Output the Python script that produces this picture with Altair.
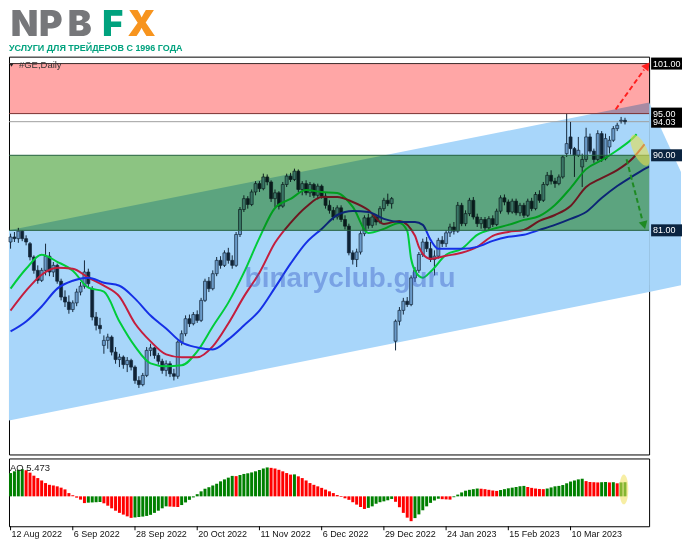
import altair as alt
import pandas as pd

FONT = "Liberation Sans"

# ---------------- data ----------------
date_labels = ["12 Aug 2022", "6 Sep 2022", "28 Sep 2022", "20 Oct 2022", "11 Nov 2022",
               "6 Dec 2022", "29 Dec 2022", "24 Jan 2023", "15 Feb 2023", "10 Mar 2023"]
date_index = [0, 16, 32, 48, 64, 80, 96, 112, 128, 144]

opens = [79.6, 80.2, 80.0, 80.9, 80.0, 79.4, 77.8, 76.2, 75.0, 76.2,
         77.9, 76.0, 76.8, 74.9, 73.0, 72.4, 71.5, 72.3, 73.6, 74.3,
         76.0, 74.0, 70.6, 69.6, 67.2, 67.8, 68.2, 66.4, 65.5, 65.8,
         64.9, 65.4, 64.6, 63.0, 62.5, 63.6, 66.6, 66.9, 66.0, 65.3,
         64.2, 65.0, 63.8, 63.5, 67.6, 68.6, 70.4, 69.8, 70.9, 70.2,
         72.6, 74.9, 74.0, 75.8, 77.4, 76.8, 78.3, 77.4, 76.8, 80.5,
         83.5, 84.8, 84.1, 85.6, 86.6, 86.0, 87.4, 86.8, 84.8, 85.5,
         83.9, 86.5, 87.5, 87.1, 88.1, 85.9, 86.6, 85.5, 86.5, 85.2,
         86.3, 85.1, 84.0, 83.4, 82.6, 83.7, 82.3, 81.5, 78.3, 77.5,
         78.4, 80.6, 82.5, 81.6, 82.6, 82.0, 83.6, 84.6, 84.2, 67.7,
         70.1, 71.4, 72.5, 72.1, 75.3, 76.2, 78.1, 79.6, 78.8, 77.5,
         77.9, 79.8, 79.4, 80.7, 81.4, 80.9, 84.0, 81.8, 83.0, 84.6,
         82.6, 81.8, 82.3, 81.3, 82.4, 81.7, 83.3, 84.9, 84.4, 83.2,
         84.5, 83.1, 84.0, 82.8, 84.5, 83.6, 85.3, 84.6, 86.5, 87.6,
         86.9, 86.6, 87.4, 90.2, 92.2, 90.8, 90.0, 88.6, 89.5, 92.2,
         90.5, 89.5, 92.6, 89.6, 91.0, 91.8, 93.2, 94.1, 94.2]
highs = [80.6, 80.8, 81.3, 81.0, 80.4, 79.6, 78.0, 76.8, 76.5, 79.4,
         78.4, 77.2, 77.0, 75.2, 73.8, 73.2, 72.6, 74.0, 74.8, 77.4,
         76.4, 74.3, 71.2, 70.5, 68.4, 68.6, 68.4, 67.0, 66.2, 66.0,
         65.8, 65.6, 64.8, 63.5, 63.9, 67.0, 67.4, 67.0, 66.3, 65.6,
         65.4, 65.3, 64.4, 67.8, 69.0, 70.8, 70.9, 71.2, 71.4, 72.9,
         75.2, 75.4, 76.2, 77.8, 77.9, 78.6, 78.9, 78.0, 80.8, 83.8,
         85.2, 85.1, 85.9, 86.9, 86.9, 87.8, 87.7, 87.0, 85.9, 85.7,
         86.8, 87.8, 87.9, 88.4, 88.3, 86.9, 87.0, 86.8, 86.7, 86.6,
         86.5, 85.5, 84.6, 83.8, 84.0, 84.0, 82.8, 81.8, 78.6, 78.8,
         80.9, 82.8, 83.0, 82.9, 82.9, 83.9, 84.9, 85.4, 85.0, 70.3,
         71.8, 72.9, 73.0, 75.6, 76.6, 78.4, 80.0, 80.2, 79.6, 78.6,
         80.1, 80.3, 81.0, 81.8, 82.0, 84.4, 84.3, 83.4, 84.9, 85.0,
         83.0, 82.6, 82.6, 82.7, 82.8, 83.6, 85.2, 85.3, 84.7, 84.8,
         84.8, 84.3, 84.3, 84.8, 84.9, 85.6, 85.8, 86.8, 88.0, 88.2,
         87.3, 87.7, 90.0, 95.0, 94.0, 91.0, 92.2, 90.2, 93.3, 92.6,
         90.8, 93.0, 92.9, 92.6, 92.3, 93.5, 93.9, 94.6, 94.5]
lows = [78.8, 79.6, 79.5, 79.7, 79.2, 77.4, 75.8, 74.6, 74.8, 75.6,
        75.5, 75.4, 74.6, 72.6, 71.8, 71.0, 71.2, 71.9, 73.2, 74.0,
        74.2, 70.2, 69.0, 68.6, 66.2, 66.8, 66.0, 65.0, 64.6, 64.4,
        64.0, 64.2, 62.6, 62.1, 62.3, 63.4, 65.9, 65.6, 64.9, 63.8,
        63.5, 63.4, 63.0, 63.2, 67.2, 68.3, 69.4, 69.6, 69.9, 70.0,
        72.4, 73.6, 73.8, 75.5, 76.4, 76.6, 77.0, 76.4, 76.6, 80.2,
        83.2, 83.6, 83.9, 85.2, 85.6, 85.8, 86.4, 84.4, 83.8, 83.5,
        83.7, 86.2, 86.8, 86.9, 85.6, 85.2, 85.2, 85.0, 84.9, 84.7,
        84.8, 83.6, 83.0, 82.2, 82.3, 82.0, 81.1, 78.0, 76.9, 76.6,
        78.1, 80.3, 81.2, 81.3, 81.6, 81.8, 83.3, 83.9, 83.6, 66.6,
        69.6, 70.9, 71.8, 71.9, 74.8, 75.9, 77.8, 78.4, 77.2, 75.6,
        77.6, 79.0, 79.0, 80.2, 80.5, 80.7, 81.5, 81.5, 82.7, 82.3,
        81.4, 81.2, 80.9, 80.9, 81.4, 81.5, 83.0, 84.0, 82.9, 83.0,
        82.8, 82.7, 82.5, 82.6, 83.3, 83.4, 84.3, 84.4, 86.3, 86.5,
        86.1, 86.4, 87.2, 89.8, 90.1, 87.4, 89.8, 86.2, 89.2, 90.2,
        89.1, 89.3, 89.2, 89.4, 90.2, 91.6, 92.9, 93.8, 93.7]
closes = [80.2, 80.0, 80.9, 80.0, 79.6, 77.8, 76.2, 75.0, 76.2, 77.9,
          76.0, 76.8, 74.9, 73.0, 72.4, 71.5, 72.3, 73.6, 74.3, 76.0,
          74.6, 70.6, 69.6, 69.2, 67.8, 68.2, 66.4, 65.5, 65.8, 64.9,
          65.4, 64.6, 63.0, 62.5, 63.6, 66.6, 66.9, 66.0, 65.3, 64.2,
          65.0, 63.8, 63.5, 67.6, 68.6, 70.4, 69.8, 70.9, 70.2, 72.6,
          74.9, 74.0, 75.8, 77.4, 76.8, 78.3, 77.4, 76.8, 80.5, 83.5,
          84.8, 84.1, 85.6, 86.6, 86.0, 87.4, 86.8, 84.8, 85.5, 83.9,
          86.5, 87.5, 87.1, 88.1, 85.9, 86.6, 85.5, 86.5, 85.2, 86.3,
          85.1, 84.0, 83.4, 82.6, 83.7, 82.3, 81.5, 78.3, 77.5, 78.4,
          80.6, 82.5, 81.6, 82.6, 82.0, 83.6, 84.6, 84.2, 84.8, 70.1,
          71.4, 72.5, 72.1, 75.3, 76.2, 78.1, 79.6, 78.8, 77.5, 77.9,
          79.8, 79.4, 80.7, 81.4, 80.9, 84.0, 81.8, 83.0, 84.6, 82.6,
          81.8, 82.3, 81.3, 82.4, 81.7, 83.3, 84.9, 84.4, 83.2, 84.5,
          83.1, 84.0, 82.8, 84.5, 83.6, 85.3, 84.6, 86.5, 87.6, 86.9,
          86.6, 87.4, 89.8, 91.4, 90.8, 90.0, 90.6, 89.5, 92.2, 90.5,
          89.5, 92.6, 89.6, 92.0, 91.8, 93.2, 93.6, 94.2, 94.03]

ao_values = [10.7, 11.5, 12.2, 12.5, 12.0, 10.9, 9.5, 8.4, 7.3, 6.1,
             5.3, 5.0, 4.6, 4.0, 3.2, 1.5, 0.5, -0.6, -1.5, -3.1,
             -2.9, -2.8, -2.7, -2.6, -3.2, -4.3, -5.5, -6.6, -7.6, -8.4,
             -9.2, -9.9, -9.7, -9.5, -9.3, -9.0, -8.5, -7.6, -6.6, -5.5,
             -4.6, -4.7, -4.8, -4.9, -4.0, -2.8, -1.6, -0.5, 1.0, 2.3,
             3.5, 4.2, 5.0, 5.8, 6.9, 7.8, 8.6, 9.4, 9.3, 9.8,
             10.3, 10.6, 11.0, 11.5, 12.1, 12.8, 13.293, 13.1, 12.8, 12.2,
             11.5, 10.7, 10.0, 10.1, 9.2, 8.4, 7.3, 6.1, 5.3, 4.6,
             3.9, 3.1, 2.3, 1.5, 0.6, -0.3, -0.9, -1.6, -2.7, -3.8,
             -4.9, -5.8, -5.3, -4.6, -3.4, -2.7, -2.3, -1.8, -1.2, -2.5,
             -5.0, -7.6, -9.8, -11.417, -10.0, -8.3, -6.4, -4.6, -3.0, -1.9,
             -1.1, -1.3, -1.4, -1.5, -0.4, 0.8, 1.8, 2.6, 3.0, 3.3,
             3.6, 3.5, 3.3, 3.0, 2.7, 2.5, 2.9, 3.3, 3.7, 4.0,
             4.3, 4.6, 4.8, 4.3, 3.9, 3.6, 3.4, 3.3, 3.6, 4.1,
             4.6, 4.8, 5.2, 6.0, 6.8, 7.3, 7.8, 8.1, 7.0, 6.6,
             6.5, 6.4, 6.5, 6.6, 6.4, 6.5, 6.0, 6.4, 6.5]

# Alligator lines
lips_i = [0, 4, 8, 12, 16, 20, 24, 28, 32, 36, 40, 44, 48, 52, 56, 60, 64, 68, 72, 76,
          80, 84, 88, 92, 96, 100, 102, 103, 104, 106, 108, 112, 116, 120, 124, 128,
          132, 136, 140, 144, 148, 152, 156, 160, 161]
lips_v = [74.01, 76.39, 78.07, 77.23, 76.16, 74.13, 73.65, 70.07, 67.08, 65.05,
          64.69, 64.81, 66.48, 69.47, 72.33, 75.92, 80.10, 83.68, 84.76, 85.83,
          85.59, 85.47, 83.80, 80.69, 81.17, 81.89, 80.93, 77.59, 76.16, 75.32,
          76.04, 78.07, 78.78, 80.46, 81.17, 81.65, 82.25, 82.72, 84.04, 86.07,
          88.34, 89.41, 90.61, 92.04, 92.52]
teeth_i = [0, 4, 8, 12, 16, 20, 24, 28, 32, 36, 40, 44, 48, 52, 56, 60, 64, 68, 72, 76,
           80, 84, 88, 92, 96, 100, 104, 105, 106, 108, 112, 116, 120, 124, 128, 132,
           136, 140, 144, 148, 152, 156, 160, 163]
teeth_v = [71.38, 73.77, 75.68, 76.51, 76.39, 75.32, 74.36, 73.05, 69.83, 67.68,
           66.12, 65.77, 65.77, 67.08, 69.83, 73.05, 75.92, 79.50, 81.89, 83.80,
           84.99, 84.99, 84.40, 83.44, 81.77, 82.13, 80.34, 79.02, 78.19, 77.59,
           77.95, 78.31, 79.02, 80.34, 80.81, 81.05, 82.13, 82.84, 83.92, 86.19,
           87.26, 88.22, 89.65, 91.32]
jaw_i = [0, 4, 8, 12, 16, 20, 24, 28, 32, 36, 40, 44, 48, 52, 56, 60, 64, 68, 72, 76,
         80, 84, 88, 92, 96, 100, 104, 106, 108, 110, 116, 120, 124, 128, 132, 136,
         140, 144, 148, 152, 156, 160, 164, 166]
jaw_v = [68.87, 70.06, 71.86, 74.01, 74.96, 75.32, 74.72, 74.36, 72.81, 70.78,
         69.23, 67.56, 66.96, 66.72, 67.92, 69.59, 71.38, 74.13, 77.00, 79.50,
         81.17, 82.84, 83.32, 83.20, 82.37, 82.01, 82.01, 81.65, 79.86, 78.78,
         78.78, 79.02, 79.74, 80.22, 80.46, 81.05, 81.65, 82.37, 83.20, 84.87,
         86.31, 87.50, 88.58, 88.94]

price_ticks = [54.3, 58.2, 62.1, 66.0, 69.9, 73.8, 77.7, 81.6, 85.5, 89.4, 93.3, 97.2]
ao_ticks = [-11.417, 0.0, 13.293]

# channel (anchors at left and right edges) and its part past the price scale
chan_x = [-0.4, 164.2]
chan_upper = [81.02, 96.33]
chan_lower = [58.19, 73.61]
ext_x = [164.2, 172.4]
ext_upper = [96.33, 88.0]
ext_lower = [73.61, 74.4]

resist_zone = [95.0, 101.0]
support_zone = [81.0, 90.0]
bid_price = 94.03

level_prices = [101.0, 95.0, 94.03, 90.0, 81.0]
level_kind = ["limit", "limit", "bid", "zone", "zone"]

up_arrow_i = [155.6, 162.9]
up_arrow_p = [95.49, 100.27]
up_head = (163.7, 100.75)
dn_arrow_i = [158.4, 162.4]
dn_arrow_p = [89.51, 82.34]
dn_head = (162.9, 81.62)
ellipse_main = (161.9, 90.6)
ellipse_ao = (157.7, 3.2)
watermark_pos = (87.3, 75.16)

# ---------------- chart ----------------
W, H_MAIN, H_AO, H_LOGO = 642, 399, 68, 45
xscale = alt.Scale(domain=[-0.4, 164.2], nice=False, zero=False, padding=0)
yscale = alt.Scale(domain=[54.12, 101.83], nice=False, zero=False, padding=0)
aoscale = alt.Scale(domain=[-13.75, 17.42], nice=False, zero=False, padding=0)

ELLIPSE_H = "M-1,0A1,0.4,0,1,0,1,0A1,0.4,0,1,0,-1,0Z"
ELLIPSE_V = "M0,-1A0.3,1,0,1,0,0,1A0.3,1,0,1,0,0,-1Z"


def X(f="i"):
    return alt.X(f"{f}:Q", scale=xscale, axis=None)


def Y(f):
    return alt.Y(f"{f}:Q", scale=yscale, axis=None)


yaxis = alt.Axis(orient="right", values=price_ticks, format=".2f", title=None, grid=False,
                 tickSize=3, tickColor="#000000", domainColor="#000000", labelColor="#111111",
                 labelFont=FONT, labelFontSize=9, labelPadding=2)

bars = pd.DataFrame({"i": list(range(len(closes))), "o": opens, "h": highs, "l": lows, "c": closes})
one = pd.DataFrame({"k": [0]})

chan_df = pd.DataFrame({"i": chan_x, "lo": chan_lower, "up": chan_upper})
channel = alt.Chart(chan_df).mark_area(color="#A8D6FA").encode(
    x=X(), y=alt.Y("lo:Q", scale=yscale, axis=yaxis), y2="up:Q")
ext_df = pd.DataFrame({"i": ext_x, "lo": ext_lower, "up": ext_upper})
channel_ext = alt.Chart(ext_df).mark_area(color="#A8D6FA", clip=False).encode(
    x=X(), y=Y("lo"), y2="up:Q")

bid = alt.Chart(pd.DataFrame({"p": [bid_price]})).mark_rule(color="#A0A0A0", strokeWidth=1).encode(y=Y("p"))

wicks = alt.Chart(bars).mark_rule(color="#15283B", strokeWidth=1).encode(x=X(), y=Y("l"), y2="h:Q")
bodies = alt.Chart(bars).mark_bar(size=3, stroke="#15283B", strokeWidth=0.7).encode(
    x=X(), y=Y("o"), y2="c:Q",
    color=alt.condition("datum.c >= datum.o", alt.value("#6A9AC8"), alt.value("#0F2336")))

lips = alt.Chart(pd.DataFrame({"i": lips_i, "v": lips_v})).mark_line(
    color="#00CC3A", strokeWidth=2, interpolate="monotone", clip=True).encode(x=X(), y=Y("v"))
teeth = alt.Chart(pd.DataFrame({"i": teeth_i, "v": teeth_v})).mark_line(
    color="#C41E3E", strokeWidth=2, interpolate="monotone", clip=True).encode(x=X(), y=Y("v"))
jaw = alt.Chart(pd.DataFrame({"i": jaw_i, "v": jaw_v})).mark_line(
    color="#1530E6", strokeWidth=2, interpolate="monotone", clip=True).encode(x=X(), y=Y("v"))

red_zone = alt.Chart(pd.DataFrame({"lo": [resist_zone[0]], "hi": [resist_zone[1]]})).mark_rect(
    color="#FFA6A6", blend="multiply").encode(x=alt.value(0), x2=alt.value(W), y=Y("lo"), y2="hi:Q")
green_zone = alt.Chart(pd.DataFrame({"lo": [support_zone[0]], "hi": [support_zone[1]]})).mark_rect(
    color="#8CC482", blend="multiply").encode(x=alt.value(0), x2=alt.value(W), y=Y("lo"), y2="hi:Q")
red_top = alt.Chart(pd.DataFrame({"p": [resist_zone[1]]})).mark_rule(color="#3A2A2A", strokeWidth=1).encode(y=Y("p"))
red_bot = alt.Chart(pd.DataFrame({"p": [resist_zone[0]]})).mark_rule(color="#7A3030", strokeWidth=1).encode(y=Y("p"))
green_lines = alt.Chart(pd.DataFrame({"p": support_zone})).mark_rule(color="#23603E", strokeWidth=1).encode(y=Y("p"))

up_arrow = alt.Chart(pd.DataFrame({"i": up_arrow_i, "p": up_arrow_p})).mark_line(
    color="#FF1E1E", strokeWidth=2, strokeDash=[5, 3], clip=False).encode(x=X(), y=Y("p"))
up_tip = alt.Chart(pd.DataFrame({"i": [up_head[0]], "p": [up_head[1]]})).mark_point(
    shape="triangle-up", size=80, angle=37, filled=True, color="#FF1E1E", opacity=1, clip=False).encode(x=X(), y=Y("p"))
dn_arrow = alt.Chart(pd.DataFrame({"i": dn_arrow_i, "p": dn_arrow_p})).mark_line(
    color="#1E8A22", strokeWidth=2, strokeDash=[5, 3], clip=False).encode(x=X(), y=Y("p"))
dn_tip = alt.Chart(pd.DataFrame({"i": [dn_head[0]], "p": [dn_head[1]]})).mark_point(
    shape="triangle-up", size=80, angle=165, filled=True, color="#1E8A22", opacity=1, clip=False).encode(x=X(), y=Y("p"))
ell = alt.Chart(pd.DataFrame({"i": [ellipse_main[0]], "p": [ellipse_main[1]]})).mark_point(
    shape=ELLIPSE_H, size=1156, angle=64, filled=True, color="#E6DE50", opacity=0.6, strokeWidth=0, clip=False).encode(
    x=X(), y=Y("p"))

watermark = alt.Chart(pd.DataFrame({"i": [watermark_pos[0]], "p": [watermark_pos[1]]})).mark_text(
    text="binaryclub.guru", font=FONT, fontWeight="bold", fontSize=28, color="#3A5CC8", opacity=0.42,
    align="center", baseline="middle").encode(x=X(), y=Y("p"))

sym_label = alt.Chart(one).mark_text(text="#GE,Daily", font=FONT, fontSize=9.5, color="#333333",
                                     align="left", baseline="middle").encode(x=alt.value(10), y=alt.value(8.5))
sym_tri = alt.Chart(one).mark_point(shape="triangle-down", size=16, filled=True, color="#222222",
                                    opacity=1).encode(x=alt.value(2.5), y=alt.value(8.5))

lv = pd.DataFrame({"p": level_prices, "kind": level_kind})
box_color = alt.Color("kind:N", scale=alt.Scale(domain=["limit", "bid", "zone"],
                                                range=["#000000", "#000000", "#0B2440"]), legend=None)
lv_box = alt.Chart(lv).transform_calculate(top="datum.p + 0.72", bot="datum.p - 0.72").mark_rect(
    clip=False).encode(x=alt.value(W + 2), x2=alt.value(W + 33), y=Y("top"), y2="bot:Q", color=box_color)
lv_text = alt.Chart(lv).mark_text(font=FONT, fontSize=9, color="#FFFFFF", align="left",
                                  baseline="middle", clip=False).encode(
    x=alt.value(W + 4), y=Y("p"), text=alt.Text("p:Q", format=".2f"))

main = alt.layer(channel, channel_ext, bid, wicks, bodies, lips, teeth, jaw,
                 red_zone, green_zone, red_top, red_bot, green_lines,
                 up_arrow, up_tip, dn_arrow, dn_tip, ell, watermark, sym_label, sym_tri,
                 lv_box, lv_text).properties(width=W, height=H_MAIN)

# ---- AO panel ----
ao_df = pd.DataFrame({"i": list(range(len(ao_values))), "v": ao_values})
ao_df["zero"] = 0.0
ao_df["up"] = ao_df["v"].diff().fillna(1.0) > 0
aoaxis = alt.Axis(orient="right", values=ao_ticks,
                  labelExpr="datum.value == 0 ? '0.00' : format(datum.value, '.3f')",
                  title=None, grid=False, tickSize=3, tickColor="#000000", domainColor="#000000",
                  labelColor="#111111", labelFont=FONT, labelFontSize=9, labelPadding=2)
ao_bars = alt.Chart(ao_df).mark_bar(size=3).encode(
    x=alt.X("i:Q", scale=xscale, axis=None),
    y=alt.Y("v:Q", scale=aoscale, axis=aoaxis), y2="zero:Q",
    color=alt.condition("datum.up", alt.value("#008000"), alt.value("#FF0000")))
ao_ell = alt.Chart(pd.DataFrame({"i": [ellipse_ao[0]], "v": [ellipse_ao[1]]})).mark_point(
    shape=ELLIPSE_V, size=900, filled=True, color="#F0E05A", opacity=0.55, strokeWidth=0, clip=False).encode(
    x=alt.X("i:Q", scale=xscale, axis=None), y=alt.Y("v:Q", scale=aoscale, axis=None))
ao_label = alt.Chart(one).mark_text(text="AO 5.473", font=FONT, fontSize=9.5, color="#222222",
                                    align="left", baseline="middle").encode(x=alt.value(1), y=alt.value(10))
dates_df = pd.DataFrame({"i": date_index, "label": date_labels})
date_ticks = alt.Chart(dates_df).mark_rule(color="#000000", strokeWidth=1, clip=False).encode(
    x=alt.X("i:Q", scale=xscale, axis=None), y=alt.value(H_AO), y2=alt.value(H_AO + 4))
date_text = alt.Chart(dates_df).mark_text(font=FONT, fontSize=9, color="#111111", align="left",
                                          baseline="top", dx=1, clip=False).encode(
    x=alt.X("i:Q", scale=xscale, axis=None), y=alt.value(H_AO + 4), text="label:N")
ao = alt.layer(ao_bars, ao_ell, ao_label, date_ticks, date_text).properties(width=W, height=H_AO)

# ---- logo ----
GRAY, GREEN, ORANGE = "#76777A", "#00A27E", "#F7941E"


def letter(ch, cx, col):
    return alt.Chart(one).mark_text(text=ch, font="Inter, DejaVu Sans", fontWeight=900, fontSize=36,
                                    color=col, align="center", baseline="top").encode(
        x=alt.value(cx), y=alt.value(0))


logo = alt.layer(
    letter("N", 15.5, GRAY), letter("P", 42, GRAY), letter("B", 71, GRAY),
    letter("F", 104, GREEN), letter("X", 133, ORANGE),
    alt.Chart(one).mark_text(text="УСЛУГИ ДЛЯ ТРЕЙДЕРОВ С 1996 ГОДА", font=FONT,
                             fontWeight="bold", fontSize=9, color=GREEN, align="left",
                             baseline="alphabetic").encode(x=alt.value(0), y=alt.value(43)),
).properties(width=W, height=H_LOGO, view=alt.ViewBackground(stroke="transparent", strokeWidth=0))

chart = alt.vconcat(logo, main, ao, spacing=4, bounds="flush").resolve_scale(
    x="independent", y="independent").properties(
    padding={"left": 0, "top": -2, "right": 0, "bottom": 0}, background="#FFFFFF").configure_view(
    stroke="#000000", strokeWidth=1)

chart.save("out.html", embed_options={"renderer": "svg", "actions": False})
